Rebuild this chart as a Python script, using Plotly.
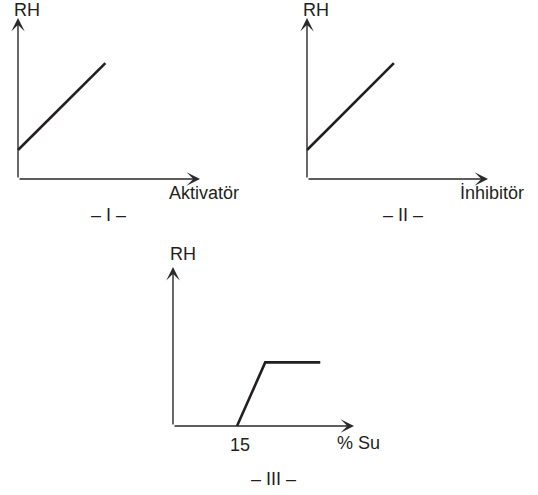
import plotly.graph_objects as go

W, H = 538, 495

# Panel I: reaction rate (RH) against activator amount
act_x = [0, 4.8]
act_rh = [1.8, 7.2]

# Panel II: reaction rate (RH) against inhibitor amount
inh_x = [0, 4.8]
inh_rh = [1.8, 7.2]

# Panel III: reaction rate (RH) against water percentage
su_x = [15, 21.6, 34.5]
su_rh = [0, 4.0, 4.0]
su_ticks = [15]

x_titles = ["Aktivatör", "İnhibitör", "% Su"]
panel_titles = ["– I –", "– II –", "– III –"]
y_title = "RH"

# pixel geometry of each panel: origin and arrow tips, plus axis extent in data units
PANELS = [
    dict(ox=18, oy=179, tx=200, ty=18, xmax=10, ymax=10),
    dict(ox=307, oy=179, tx=488, ty=18, xmax=10, ymax=10),
    dict(ox=173, oy=426, tx=354, ty=267, xmax=42.4, ymax=10),
]
PAD = 10
INK = "#231f20"
AXIS_INK = "#2a2a2a"
FONT = "Liberation Sans, Arial, Helvetica, sans-serif"


def px(x, y):
    return x / W, 1 - y / H


fig = go.Figure()
series = [(act_x, act_rh), (inh_x, inh_rh), (su_x, su_rh)]

for i, (p, (xs, ys)) in enumerate(zip(PANELS, series), start=1):
    suffix = "" if i == 1 else str(i)
    sx = (p["tx"] - p["ox"]) / p["xmax"]
    sy = (p["oy"] - p["ty"]) / p["ymax"]
    fig.update_layout({
        f"xaxis{suffix}": dict(
            domain=[(p["ox"] - PAD) / W, (p["tx"] + PAD) / W],
            range=[-PAD / sx, p["xmax"] + PAD / sx],
            visible=False, fixedrange=True,
            anchor=f"y{suffix}",
        ),
        f"yaxis{suffix}": dict(
            domain=[1 - (p["oy"] + PAD) / H, 1 - (p["ty"] - PAD) / H],
            range=[-PAD / sy, p["ymax"] + PAD / sy],
            visible=False, fixedrange=True,
            anchor=f"x{suffix}",
        ),
    })
    fig.add_trace(go.Scatter(
        x=xs, y=ys, mode="lines",
        line=dict(color=INK, width=2.6),
        xaxis=f"x{suffix}", yaxis=f"y{suffix}",
        hoverinfo="skip", showlegend=False,
    ))
    # axes drawn as arrows
    for tip in [(p["xmax"], 0), (0, p["ymax"])]:
        fig.add_annotation(
            x=tip[0], y=tip[1], ax=0, ay=0,
            xref=f"x{suffix}", yref=f"y{suffix}",
            axref=f"x{suffix}", ayref=f"y{suffix}",
            text="", showarrow=True,
            arrowhead=3, arrowsize=1.6, arrowwidth=1.4,
            arrowcolor=AXIS_INK,
        )

text_font = dict(family=FONT, size=18, color=INK)

# RH labels above each vertical axis
for cx, cy in [(27, 10), (316, 10), (183, 254)]:
    x, y = px(cx, cy)
    fig.add_annotation(x=x, y=y, xref="paper", yref="paper", text=y_title,
                       showarrow=False, xanchor="center", yanchor="middle",
                       font=text_font)

# x axis titles
for t, (cx, cy) in zip(x_titles, [(204, 193), (492, 193), (358, 443)]):
    x, y = px(cx, cy)
    fig.add_annotation(x=x, y=y, xref="paper", yref="paper", text=t,
                       showarrow=False, xanchor="center", yanchor="middle",
                       font=text_font)

# panel numbers
for t, (cx, cy) in zip(panel_titles, [(109, 215), (403, 215), (273, 479)]):
    x, y = px(cx, cy)
    fig.add_annotation(x=x, y=y, xref="paper", yref="paper", text=t,
                       showarrow=False, xanchor="center", yanchor="middle",
                       font=text_font)

# tick label on panel III
for v in su_ticks:
    fig.add_annotation(x=v, y=0, xref="x3", yref="y3", text=str(v),
                       showarrow=False, xanchor="center", yanchor="top",
                       yshift=-7, xshift=3, font=text_font)

fig.update_layout(
    width=W, height=H, autosize=False,
    margin=dict(l=0, r=0, t=0, b=0),
    paper_bgcolor="white", plot_bgcolor="white",
    showlegend=False,
)

fig.write_html(
    "out.html",
    config={"displayModeBar": False},
    post_script="document.body.style.margin = '0';",
)
